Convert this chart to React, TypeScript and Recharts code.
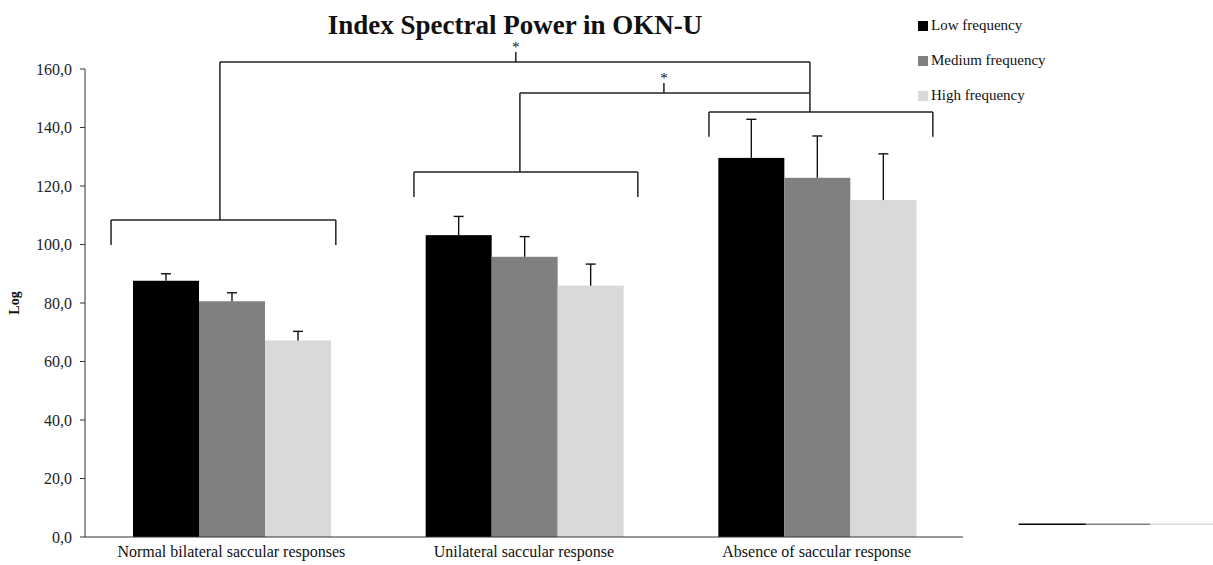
import { Bar, BarChart, Legend, ReferenceDot, ReferenceLine, XAxis, YAxis } from "recharts";

const categories = [
  "Normal bilateral saccular responses",
  "Unilateral saccular response",
  "Absence of saccular response",
];
const lowValues = [87.6, 103.2, 129.6];
const mediumValues = [80.6, 95.8, 122.8];
const highValues = [67.2, 85.9, 115.2];
const lowErrors = [2.4, 6.4, 13.2];
const mediumErrors = [2.9, 6.9, 14.3];
const highErrors = [3.1, 7.4, 15.8];
const yTicks = [0, 20, 40, 60, 80, 100, 120, 140, 160];
const edgeTicks = [0, 1, 2, 3];

const series = [
  { key: "low", err: "lowErr", name: "Low frequency", color: "#000000" },
  { key: "medium", err: "mediumErr", name: "Medium frequency", color: "#808080" },
  { key: "high", err: "highErr", name: "High frequency", color: "#d9d9d9" },
];

// significance brackets, in category units (x) and value units (y)
const bracketSegments = [
  [0.089, 99.8, 0.089, 108.4],
  [0.089, 108.4, 0.857, 108.4],
  [0.857, 108.4, 0.857, 99.8],
  [0.461, 108.4, 0.461, 162.4],
  [0.461, 162.4, 2.477, 162.4],
  [1.472, 162.4, 1.472, 165.8],
  [2.477, 162.4, 2.477, 145.3],
  [1.124, 116.2, 1.124, 124.8],
  [1.124, 124.8, 1.889, 124.8],
  [1.889, 124.8, 1.889, 116.2],
  [1.486, 124.8, 1.486, 151.8],
  [1.486, 151.8, 2.477, 151.8],
  [1.978, 151.8, 1.978, 155.2],
  [2.132, 136.8, 2.132, 145.3],
  [2.132, 145.3, 2.897, 145.3],
  [2.897, 145.3, 2.897, 136.8],
];
const stars = [
  [1.472, 167.6],
  [1.978, 157.0],
];
const strayLines = [
  [3.19, 3.42, "#000000"],
  [3.42, 3.64, "#808080"],
  [3.64, 3.86, "#d9d9d9"],
];

const data = categories.map((name, i) => ({
  name,
  pos: i + 0.5,
  low: lowValues[i],
  medium: mediumValues[i],
  high: highValues[i],
  lowErr: lowErrors[i],
  mediumErr: mediumErrors[i],
  highErr: highErrors[i],
}));

const serif = "'Liberation Serif', 'DejaVu Serif', serif";
const formatTick = (v: number) => v.toFixed(1).replace(".", ",");

const barWithError = (errKey: string) => (props: any) => {
  const { x, y, width, height, fill, payload, value } = props;
  const v = Array.isArray(value) ? value[1] - value[0] : value;
  const err = payload[errKey];
  const errPx = v ? (height / v) * err : 0;
  const cx = x + width / 2;
  return (
    <g>
      <rect x={x} y={y} width={width} height={height} fill={fill} />
      <line x1={cx} y1={y} x2={cx} y2={y - errPx} stroke="#111" strokeWidth={1.4} />
      <line x1={cx - 5} y1={y - errPx} x2={cx + 5} y2={y - errPx} stroke="#111" strokeWidth={1.4} />
    </g>
  );
};

const LegendContent = () => (
  <div style={{ fontFamily: serif, fontSize: 15, color: "#111" }}>
    {series.map((s) => (
      <div key={s.key} style={{ display: "flex", alignItems: "center", height: 35 }}>
        <span style={{ width: 10, height: 10, background: s.color, marginRight: 3 }} />
        <span>{s.name}</span>
      </div>
    ))}
  </div>
);

export default function App() {
  return (
    <div style={{ position: "absolute", left: 0, top: 0, width: 1213, height: 565, background: "#fff" }}>
      <div
        style={{
          position: "absolute",
          left: 0,
          width: 1030,
          top: 10,
          textAlign: "center",
          fontFamily: serif,
          fontWeight: "bold",
          fontSize: 27,
          color: "#111",
        }}
      >
        Index Spectral Power in OKN-U
      </div>
      <BarChart
        width={1213}
        height={565}
        data={data}
        margin={{ top: 69, right: 250, bottom: 0, left: 0 }}
        barCategoryGap="16.4%"
        barGap={0}
      >
        <XAxis
          xAxisId="edge"
          dataKey="pos"
          type="number"
          scale="linear"
          domain={[0, 3]}
          ticks={edgeTicks}
          allowDataOverflow
          height={0}
          axisLine={false}
          tick={false}
          tickLine={{ stroke: "#333" }}
          tickSize={6}
        />
        <XAxis
          dataKey="name"
          height={28}
          axisLine={{ stroke: "#333" }}
          tickLine={false}
          tickSize={0}
          tickMargin={9}
          tick={{ fontFamily: serif, fontSize: 16, fill: "#111" }}
        />
        <YAxis
          width={85}
          domain={[0, 160]}
          ticks={yTicks}
          tickFormatter={formatTick}
          axisLine={{ stroke: "#333" }}
          tickLine={{ stroke: "#333" }}
          tickSize={5}
          tickMargin={8}
          tick={{ fontFamily: serif, fontSize: 16, fill: "#222" }}
          label={{
            value: "Log",
            angle: -90,
            position: "insideLeft",
            offset: 14,
            style: { fontFamily: serif, fontWeight: "bold", fontSize: 14, fill: "#111", textAnchor: "middle" },
          }}
        />
        <Legend
          layout="vertical"
          verticalAlign="middle"
          align="center"
          wrapperStyle={{ position: "absolute", left: 918, top: 8, width: 200 }}
          content={<LegendContent />}
        />
        {series.map((s) => (
          <Bar
            key={s.key}
            dataKey={s.key}
            name={s.name}
            fill={s.color}
            isAnimationActive={false}
            shape={barWithError(s.err)}
          />
        ))}
        {bracketSegments.map(([x1, y1, x2, y2], i) => (
          <ReferenceLine
            key={`b${i}`}
            xAxisId="edge"
            ifOverflow="visible"
            segment={[{ x: x1, y: y1 }, { x: x2, y: y2 }]}
            stroke="#222"
            strokeWidth={1.5}
          />
        ))}
        {stars.map(([x, y], i) => (
          <ReferenceDot
            key={`s${i}`}
            xAxisId="edge"
            x={x}
            y={y}
            r={0}
            fill="#111"
            stroke="none"
            ifOverflow="visible"
            label={{
              value: "*",
              position: "center",
              fill: "#111",
              fontFamily: serif,
              fontSize: 15,
            }}
          />
        ))}
        {strayLines.map(([x1, x2, color], i) => (
          <ReferenceLine
            key={`l${i}`}
            xAxisId="edge"
            ifOverflow="visible"
            segment={[{ x: x1 as number, y: 4.4 }, { x: x2 as number, y: 4.4 }]}
            stroke={color as string}
            strokeWidth={1.5}
          />
        ))}
      </BarChart>
    </div>
  );
}
